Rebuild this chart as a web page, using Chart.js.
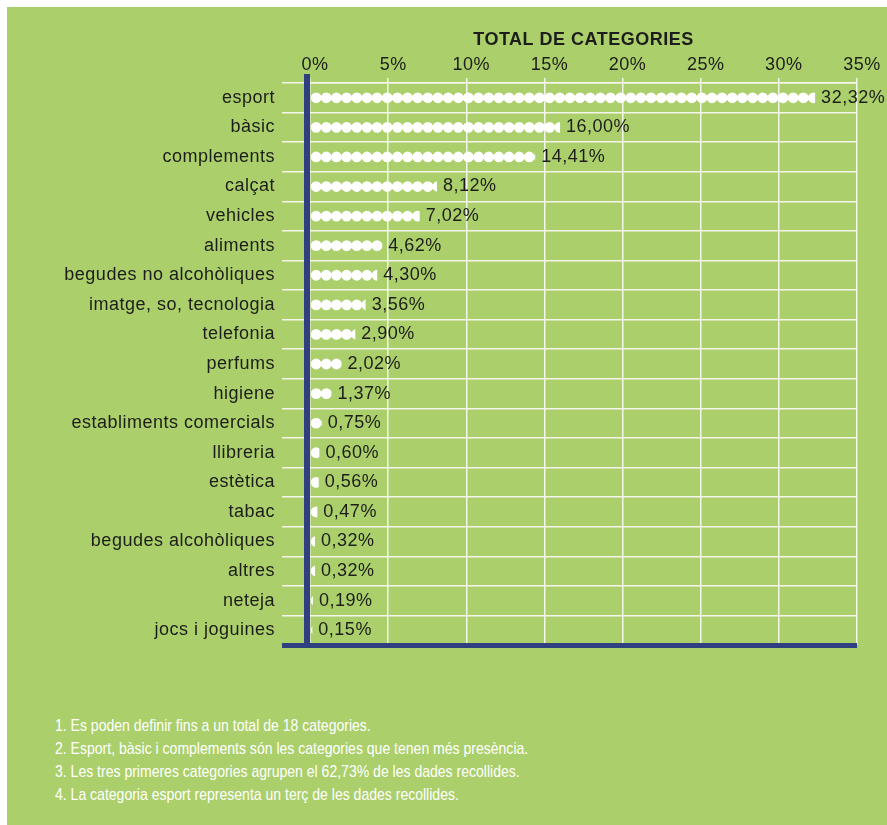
<!DOCTYPE html>
<html>
<head>
<meta charset="utf-8">
<script src="https://cdn.jsdelivr.net/npm/chart.js@4.4.0/dist/chart.umd.min.js"></script>
<style>
  html, body { margin: 0; padding: 0; background: #fff; }
  #panel { position: absolute; left: 7px; top: 7px; width: 880px; height: 818px; background: #abcf6a; }
  #wrap { position: absolute; left: 0; top: 0; width: 887px; height: 700px; }
  #notes { position: absolute; left: 55px; top: 714px; color: #fff; white-space: nowrap;
           font: 17px "Liberation Sans", Arial, sans-serif; line-height: 23px;
           transform: scaleX(0.825); transform-origin: 0 0; }
</style>
</head>
<body>
<div id="panel"></div>
<div id="wrap"><canvas id="c" width="887" height="700"></canvas></div>
<div id="notes">
  <div>1. Es poden definir fins a un total de 18 categories.</div>
  <div>2. Esport, bàsic i complements són les categories que tenen més presència.</div>
  <div>3. Les tres primeres categories agrupen el 62,73% de les dades recollides.</div>
  <div>4. La categoria esport representa un terç de les dades recollides.</div>
</div>
<script>
// dades
var categories = ["esport", "bàsic", "complements", "calçat", "vehicles", "aliments",
  "begudes no alcohòliques", "imatge, so, tecnologia", "telefonia", "perfums", "higiene",
  "establiments comercials", "llibreria", "estètica", "tabac", "begudes alcohòliques",
  "altres", "neteja", "jocs i joguines"];
var percentages = [32.32, 16.00, 14.41, 8.12, 7.02, 4.62, 4.30, 3.56, 2.90, 2.02, 1.37,
  0.75, 0.60, 0.56, 0.47, 0.32, 0.32, 0.19, 0.15];
var axisTicks = [0, 5, 10, 15, 20, 25, 30, 35];
var axisTitle = "TOTAL DE CATEGORIES";

var FONT = '"Liberation Sans", Arial, sans-serif';
var INK = '#1d1d1b';
var NAVY = '#2f3f7f';
var DOT_R = 5.4, DOT_STEP = 10.15;

function fmt(v) { return v.toFixed(2).replace('.', ',') + '%'; }

// dots + etiquetes + eixos blaus
var dotsPlugin = {
  id: 'dots',
  beforeDraw: function(chart) { chart.ctx.letterSpacing = '0.5px'; },
  afterDatasetsDraw: function(chart) {
    var ctx = chart.ctx, area = chart.chartArea;
    var meta = chart.getDatasetMeta(0);
    ctx.save();
    meta.data.forEach(function(bar, i) {
      var p = bar.getProps(['x', 'y', 'base'], true);
      ctx.save();
      ctx.beginPath();
      ctx.rect(p.base, p.y - 7, p.x - p.base, 14);
      ctx.clip();
      ctx.fillStyle = '#fff';
      ctx.beginPath();
      for (var cx = p.base + DOT_R; cx - DOT_R < p.x; cx += DOT_STEP) {
        ctx.moveTo(cx + DOT_R, p.y);
        ctx.arc(cx, p.y, DOT_R, 0, Math.PI * 2);
      }
      ctx.fill();
      ctx.restore();

      ctx.fillStyle = INK;
      ctx.font = '18px ' + FONT;
      ctx.textAlign = 'left';
      ctx.textBaseline = 'middle';
      ctx.fillText(fmt(percentages[i]), p.x + 6, p.y);
    });
    ctx.fillStyle = NAVY;
    ctx.fillRect(area.left - 6, area.top - 9, 6, area.bottom - area.top + 12);
    ctx.fillRect(area.left - 28, area.bottom - 2, area.right - area.left + 28, 5);
    ctx.restore();
  }
};

new Chart(document.getElementById('c'), {
  type: 'bar',
  data: {
    labels: categories,
    datasets: [{ data: percentages, backgroundColor: 'rgba(0,0,0,0)', borderWidth: 0 }]
  },
  options: {
    indexAxis: 'y',
    responsive: false,
    animation: false,
    devicePixelRatio: 1,
    layout: { padding: { top: 20, left: 10, right: 30, bottom: 55 } },
    plugins: { legend: { display: false }, tooltip: { enabled: false } },
    scales: {
      x: {
        position: 'top',
        min: axisTicks[0], max: axisTicks[axisTicks.length - 1],
        afterBuildTicks: function(s) { s.ticks = axisTicks.map(function(v) { return { value: v }; }); },
        afterFit: function(s) { s.height = 63; },
        grid: { color: '#f4f6ec', lineWidth: 1.5, tickLength: 5, drawTicks: true },
        border: { display: true, color: '#f4f6ec', width: 1.5 },
        ticks: { color: INK, font: { family: FONT, size: 18 }, padding: 2, labelOffset: 5,
                 maxRotation: 0, callback: function(v) { return v + '%'; } },
        title: { display: true, text: axisTitle, color: INK,
                 font: { family: FONT, size: 18, weight: 'bold' }, padding: { top: 9, bottom: 0 } }
      },
      y: {
        afterFit: function(s) { s.width = 300; },
        grid: { color: '#f4f6ec', lineWidth: 1.5, tickLength: 28, offset: true },
        border: { display: false },
        ticks: { color: INK, font: { family: FONT, size: 18 }, padding: 7, autoSkip: false }
      }
    }
  },
  plugins: [dotsPlugin]
});
</script>
</body>
</html>
